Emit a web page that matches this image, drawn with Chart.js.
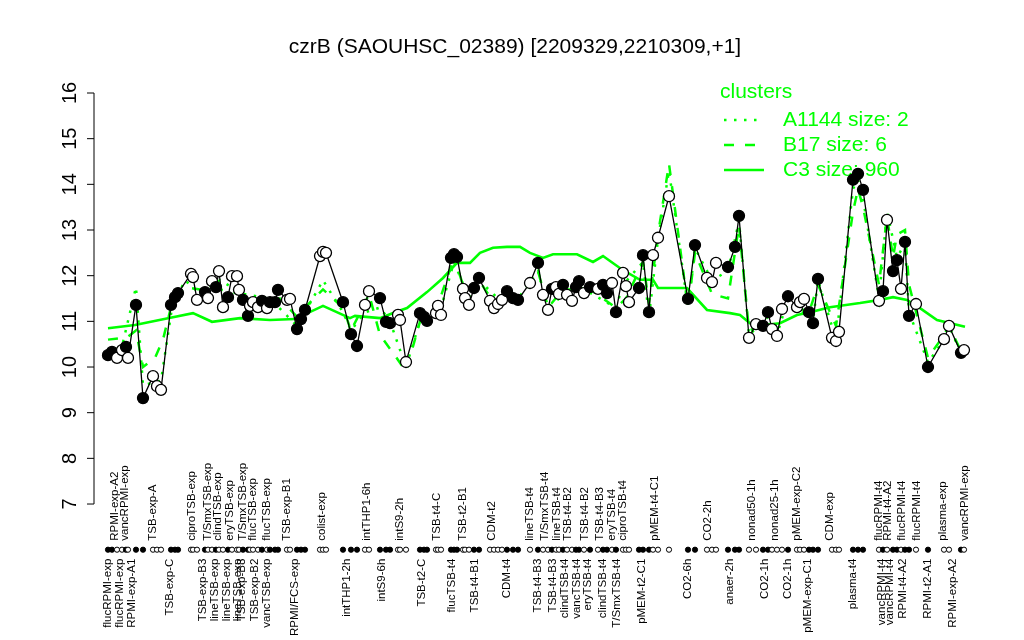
<!DOCTYPE html>
<html>
<head>
<meta charset="utf-8">
<script src="https://cdn.jsdelivr.net/npm/chart.js@4.4.1/dist/chart.umd.min.js"></script>
<style>
  html, body { margin: 0; padding: 0; background: #fff; }
  #wrap { width: 1024px; height: 640px; position: relative; }
</style>
</head>
<body>
<div id="wrap"><canvas id="czrbChart"></canvas></div>
<script>
// sample slot of each condition along the x axis, with its expression value
const positions = [2,3,4.25,5.5,6.5,7,9,10.75,13.25,14.25,
  15.25,17.75,18.75,19.5,22.75,23.25,24.25,26.25,27,28,
  29,29.75,30.75,32,33,34.25,34.75,35.75,37,37.5,
  38.25,39.5,40.5,41.75,42.5,43.75,44.5,46.75,47.5,49.25,
  50.25,51.25,55,55.75,56.5,60.75,62.75,64.25,66.25,67.25,
  70,71.5,72.5,74.5,75,76.5,80,81,81.75,84,
  84.5,85.25,87.75,88.5,89.25,90.75,91.25,92.25,93.5,94.75,
  97.5,98.5,99.5,100.5,101.75,103.25,104.5,107.5,109.5,110.75,
  112,113,114,114.75,115.75,116.75,118,119,119.75,121,
  122.5,124.5,125.75,126.75,128,129,130.75,131.5,132.25,134.75,
  135.75,137.25,138.25,139.5,142.25,147,148.75,151.75,153,154,
  157,158.75,159.75,162.25,164,165.75,167,168,169.25,170.5,
  172,174.25,175,176,177.25,178.25,179.5,183,184,184.75,
  188.25,189.5,190.75,194.75,195.75,196.75,198.25,199.25,200.25,201.25,
  202.25,204,207,211,212.25,215.25,216];

const expression = [10.26,10.33,10.20,10.37,10.44,10.20,11.36,9.32,9.80,9.58,
  9.50,11.36,11.53,11.62,12.04,11.97,11.47,11.64,11.51,11.88,
  11.75,12.10,11.31,11.53,11.99,11.99,11.69,11.47,11.12,11.34,
  11.42,11.31,11.45,11.29,11.42,11.42,11.69,11.47,11.49,10.83,
  11.05,11.25,12.43,12.52,12.50,11.42,10.72,10.46,11.36,11.66,
  11.51,10.99,10.96,11.14,11.03,10.11,11.18,11.10,11.01,11.18,
  11.34,11.14,12.39,12.47,12.41,11.71,11.51,11.36,11.73,11.95,
  11.45,11.29,11.38,11.47,11.66,11.51,11.47,11.84,12.28,11.58,
  11.25,11.71,11.75,11.60,11.80,11.58,11.45,11.75,11.88,11.62,
  11.75,11.71,11.80,11.62,11.84,11.20,12.06,11.77,11.42,11.73,
  12.45,11.20,12.45,12.83,13.74,11.49,12.67,11.95,11.86,12.28,
  12.19,12.63,13.31,10.64,10.94,10.90,11.20,10.83,10.68,11.27,
  11.55,11.31,11.42,11.49,11.20,10.96,11.93,10.64,10.57,10.77,
  14.10,14.23,13.88,11.45,11.66,13.22,12.10,12.34,11.71,12.74,
  11.12,11.38,10.00,10.61,10.90,10.31,10.37];

// 1 = filled marker, 0 = open marker
const filled = [1,1,0,0,1,0,1,1,0,0,
  0,1,1,1,0,0,0,1,0,0,
  1,0,0,1,0,0,0,1,1,0,
  0,0,1,0,1,1,1,0,0,1,
  1,1,0,0,0,1,1,1,0,0,
  1,1,1,0,0,0,1,1,1,0,
  0,0,1,1,1,0,0,0,1,1,
  0,0,0,0,1,1,1,0,1,0,
  0,1,0,0,1,0,0,1,1,0,
  1,0,1,1,0,1,0,0,0,1,
  1,1,0,0,0,1,1,0,0,0,
  1,1,1,0,0,1,1,0,0,0,
  1,0,0,0,1,1,1,0,0,0,
  1,1,1,0,1,0,1,1,0,1,
  1,0,1,0,0,1,0];

// cluster profiles
const c3Pos = [2,8.75,17,23.25,28,35,42.5,48.75,55.75,62.5,63.75,70,73.75,76.75,81.75,
  85.75,89.25,92.5,95,98.25,101.75,105,107.5,110.75,113.25,119.25,123.25,125.75,130.75,135,
  138.25,139.5,146.75,151.75,157.5,160,162.5,165.75,170,174.25,177.5,182.5,190,195,198.25,
  201.75,205,209.25,216.25];
const c3Val = [10.85,10.92,11.07,11.18,10.99,11.07,11.03,11.05,11.34,11.07,11.12,11.07,11.20,11.29,11.64,
  11.95,12.28,12.28,12.50,12.61,12.63,12.63,12.50,12.39,12.47,12.47,12.30,12.43,12.12,11.91,
  11.91,11.73,11.73,11.25,11.18,11.14,10.96,10.92,10.96,11.14,11.20,11.31,11.40,11.47,11.53,
  11.47,11.29,11.03,10.88];

const b17Pos = [2,6.75,9,10.75,13.75,15.75,18,21.25,25,30,35,40,45,49.25,51.25,
  55.75,60.75,62.75,66.25,67.25,70,73.75,76.5,80,84.25,87.75,89.25,92.25,94.75,98.5,
  101.75,104.5,107.5,109.5,112,115.75,122.5,129,131.5,135.75,137.25,139.5,142.25,147,148.75,
  153,157,159.75,162.25,165.75,168,172,177.25,179.5,184,188.25,189.5,190.75,194.75,196.75,
  198.25,199.25,201.25,202.25,207,211,212.25,215.25];
const b17Val = [10.6,10.65,10.8,10.0,10.2,10.6,11.4,11.75,11.7,11.7,11.6,11.45,11.5,11.1,11.3,
  11.7,11.3,10.8,11.4,11.6,10.7,10.25,9.9,11.0,11.3,12.2,12.2,11.4,11.9,11.4,
  11.6,11.5,11.8,12.1,11.3,11.7,11.7,11.3,11.5,12.3,11.4,12.9,14.45,11.3,12.5,
  11.6,11.5,13.1,10.8,10.9,10.8,11.4,11.2,11.8,10.9,13.4,13.9,13.5,11.8,13.3,
  12.4,12.9,13.0,11.8,10.2,10.7,10.9,10.35];

const a1144Pos = [2,5.5,9,10.75,15.25,18,21.25,25,30,35.75,42.5,49.25,51.25,55.75,60.75,
  62.75,66.25,70,72.5,76.5,80,85.25,88.5,92.25,94.75,99.5,104.5,109.5,112,119,
  129,130.75,135.75,137.25,139.5,142.25,147,148.75,153,157,159.75,162.25,167,169.25,172,
  178.25,179.5,184,188.25,189.5,190.75,194.75,196.75,199.25,201.25,202.25,207,211,212.25,215.25];
const a1144Val = [10.3,10.45,11.75,9.6,9.7,11.3,11.9,11.6,11.9,11.6,11.5,10.9,11.2,11.9,11.2,
  10.8,11.2,11.3,11.0,10.0,11.0,11.3,12.3,11.5,11.9,11.5,11.5,12.1,11.3,11.8,
  11.3,11.8,12.3,11.1,12.8,14.3,11.3,12.6,11.9,12.1,13.2,10.7,11.1,10.7,11.5,
  11.0,11.9,10.6,13.9,14.1,13.7,11.5,13.4,12.4,12.7,11.2,10.1,10.6,10.9,10.3];

// condition names written above and below the marker strip
const topLabelPos = [3.75,6.25,13.25,23,27,29.5,32.5,35.75,38.25,41.75,46.75,
  55.5,66.75,75,84.25,90.75,98,107.5,111.25,114.25,117,121.25,125,128,130.75,
  138.75,152,163,168.75,174.25,182.5,194.75,197,200.5,204.25,210.75,216.25];
const topLabels = ['RPMI-exp-A2','vancRPMI-exp','TSB-exp-A','ciproTSB-exp','T/SmxTSB-exp',
  'clindTSB-exp','eryTSB-exp','T/SmxTSB-exp','flucTSB-exp','flucTSB-exp','TSB-exp-B1',
  'colist-exp','intTHP1-6h','intS9-2h','TSB-t4-C','TSB-t2-B1','CDM-t2','lineTSB-t4',
  'T/SmxTSB-t4','lineTSB-t4','TSB-t4-B2','TSB-t4-B2','TSB-t4-B3','eryTSB-t4','ciproTSB-t4',
  'pMEM-t4-C1','CO2-2h','nonad50-1h','nonad25-1h','pMEM-exp-C2','CDM-exp','flucRPMI-t4',
  'RPMI-t4-A2','flucRPMI-t4','flucRPMI-t4','plasma-exp','vancRPMI-exp'];
const bottomLabelPos = [2,5,8,17.5,25.75,28.75,31.75,34.5,35.5,38.75,41.75,48.75,
  61.75,70.5,80.5,88,93.75,101.75,109.5,113.25,116.25,119.25,122,125.75,129.25,
  135.5,147,157.5,166.25,172,177,188.25,195.5,197.5,200.75,207,213.25];
const bottomLabels = ['flucRPMI-exp','flucRPMI-exp','RPMI-exp-A1','TSB-exp-C','TSB-exp-B3',
  'lineTSB-exp','lineTSB-exp','lineTSB-exp','TSB-exp-B3','TSB-exp-B2','vancTSB-exp',
  'RPMI/FCS-exp','intTHP1-2h','intS9-6h','TSB-t2-C','flucTSB-t4','TSB-t4-B1','CDM-t4',
  'TSB-t4-B3','TSB-t4-B3','clindTSB-t4','vancTSB-t4','eryTSB-t4','clindTSB-t4','T/SmxTSB-t4',
  'pMEM-t2-C1','CO2-6h','anaer-2h','CO2-1h','CO2-1h','pMEM-exp-C1','plasma-t4',
  'vancRPMI-t4','vancRPMI-t4','RPMI-t4-A2','RPMI-t2-A1','RPMI-exp-A2'];

const yTicks = [7,8,9,10,11,12,13,14,15,16];
const legendNames = ['A1144 size: 2','B17 size: 6','C3 size: 960'];
const chartTitle = 'czrB (SAOUHSC_02389) [2209329,2210309,+1]';

const green = '#00ff00';
const dotRow = 6;
const font = '"Liberation Sans", Arial, Helvetica, sans-serif';

const toXY = (xs, ys) => xs.map((x, i) => ({ x: x, y: ys[i] }));
const markerFill = filled.map(f => f ? '#000000' : '#ffffff');

const rPlot = {
  id: 'rPlot',
  beforeDatasetsDraw(chart) {
    const { ctx, chartArea, scales } = chart;
    const xs = scales.x, ys = scales.y;
    ctx.save();

    // title
    ctx.fillStyle = '#000';
    ctx.font = '21px ' + font;
    ctx.textAlign = 'center';
    ctx.textBaseline = 'middle';
    ctx.fillText(chartTitle, 515, 47);

    // y axis, R style with rotated labels
    const ax = chartArea.left;
    ctx.strokeStyle = '#000';
    ctx.lineWidth = 1;
    ctx.beginPath();
    ctx.moveTo(ax, ys.getPixelForValue(yTicks[0]));
    ctx.lineTo(ax, ys.getPixelForValue(yTicks[yTicks.length - 1]));
    yTicks.forEach(t => {
      const py = ys.getPixelForValue(t);
      ctx.moveTo(ax, py);
      ctx.lineTo(ax - 7, py);
    });
    ctx.stroke();
    ctx.font = '20px ' + font;
    yTicks.forEach(t => {
      ctx.save();
      ctx.translate(ax - 24, ys.getPixelForValue(t));
      ctx.rotate(-Math.PI / 2);
      ctx.fillText(String(t), 0, 0);
      ctx.restore();
    });

    // condition labels
    const rowY = ys.getPixelForValue(dotRow);
    ctx.font = '11.5px ' + font;
    ctx.textBaseline = 'middle';
    topLabels.forEach((lab, i) => {
      ctx.save();
      ctx.translate(xs.getPixelForValue(topLabelPos[i]), rowY - 9);
      ctx.rotate(-Math.PI / 2);
      ctx.textAlign = 'left';
      ctx.fillText(lab, 0, 0);
      ctx.restore();
    });
    bottomLabels.forEach((lab, i) => {
      ctx.save();
      ctx.translate(xs.getPixelForValue(bottomLabelPos[i]), rowY + 9);
      ctx.rotate(-Math.PI / 2);
      ctx.textAlign = 'right';
      ctx.fillText(lab, 0, 0);
      ctx.restore();
    });

    // legend
    ctx.fillStyle = green;
    ctx.strokeStyle = green;
    ctx.font = '21px ' + font;
    ctx.textAlign = 'left';
    ctx.fillText('clusters', 720, 92);
    const dashes = [[2.5, 7.5], [10, 11], []];
    legendNames.forEach((name, i) => {
      const ly = 120 + i * 25;
      ctx.lineWidth = 2.5;
      ctx.setLineDash(dashes[i]);
      ctx.beginPath();
      ctx.moveTo(724, ly);
      ctx.lineTo(764, ly);
      ctx.stroke();
      ctx.setLineDash([]);
      ctx.fillText(name, 783, ly);
    });
    ctx.restore();
  }
};

const ctx = document.getElementById('czrbChart').getContext('2d');
// eslint-disable-next-line no-undef
const czrbChart = new Chart(ctx, {
  type: 'line',
  data: {
    datasets: [
      {
        label: 'czrB',
        data: toXY(positions, expression),
        borderColor: '#000',
        borderWidth: 1.3,
        pointRadius: 5.5,
        pointBorderWidth: 1.3,
        pointBorderColor: '#000',
        pointBackgroundColor: markerFill,
        order: 0
      },
      {
        label: 'strip',
        data: positions.map(p => ({ x: p, y: dotRow })),
        showLine: false,
        pointRadius: 2.6,
        pointBorderWidth: 1,
        pointBorderColor: '#000',
        pointBackgroundColor: markerFill,
        order: 0
      },
      {
        label: legendNames[2],
        data: toXY(c3Pos, c3Val),
        borderColor: green,
        borderWidth: 2.6,
        pointRadius: 0,
        order: 1
      },
      {
        label: legendNames[1],
        data: toXY(b17Pos, b17Val),
        borderColor: green,
        borderWidth: 2.5,
        borderDash: [10, 11],
        pointRadius: 0,
        order: 2
      },
      {
        label: legendNames[0],
        data: toXY(a1144Pos, a1144Val),
        borderColor: green,
        borderWidth: 2.5,
        borderDash: [2.5, 7.5],
        pointRadius: 0,
        order: 3
      }
    ]
  },
  options: {
    responsive: true,
    maintainAspectRatio: false,
    animation: false,
    events: [],
    layout: { padding: { left: 94, right: 34, top: 65.6, bottom: 8.1 } },
    plugins: {
      legend: { display: false },
      title: { display: false },
      tooltip: { enabled: false }
    },
    scales: {
      x: { type: 'linear', min: -1.5, max: 222.5, display: false },
      y: { type: 'linear', min: 4.2, max: 16.6, display: false }
    }
  },
  plugins: [rPlot]
});
</script>
</body>
</html>
